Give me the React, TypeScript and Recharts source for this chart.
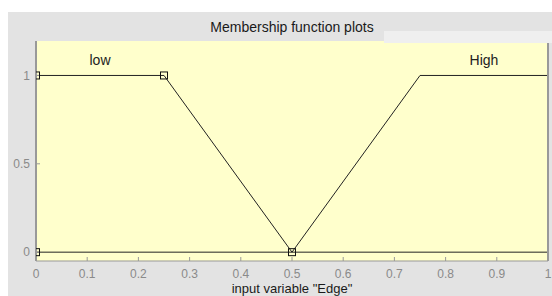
import React from "react";
import {
  ComposedChart,
  Line,
  Scatter,
  XAxis,
  YAxis,
  CartesianGrid,
  Label,
} from "recharts";

const xTicks = [0, 0.1, 0.2, 0.3, 0.4, 0.5, 0.6, 0.7, 0.8, 0.9, 1];
const yTicks = [0, 0.5, 1];

// membership functions over the whole input range
const lowX = [0, 0.25, 0.5, 1];
const lowY = [1, 1, 0, 0];
const highX = [0, 0.5, 0.75, 1];
const highY = [0, 0, 1, 1];

// selected mf "low" = trapmf [0 0 0.25 0.5], its parameter markers
const lowParams = [0, 0, 0.25, 0.5];
const paramY = [0, 1, 1, 0];

const mfNames = ["low", "High"];
const nameX = [0.125, 0.875];
const nameY = [1.09, 1.09];

const lowData = lowX.map((x, i) => ({ x, y: lowY[i] }));
const highData = highX.map((x, i) => ({ x, y: highY[i] }));
const markerData = lowParams.map((x, i) => ({ x, y: paramY[i] }));
const nameData = mfNames.map((name, i) => ({ x: nameX[i], y: nameY[i], name }));

const NameLabel = (props: any) => (
  <text
    x={props.cx}
    y={props.cy}
    textAnchor="middle"
    dominantBaseline="central"
    fontSize={14}
    fill="#222"
  >
    {props.payload.name}
  </text>
);

const MarkerSquare = (props: any) => (
  <rect
    x={props.cx - 3.5}
    y={props.cy - 3.5}
    width={7}
    height={7}
    fill="none"
    stroke="#111"
    strokeWidth={1}
  />
);

const XTick = (props: any) => (
  <text
    x={props.x}
    y={props.y}
    dy="0.71em"
    textAnchor="middle"
    fontSize={12}
    fill="#8a8a8a"
  >
    {String(props.payload.value)}
  </text>
);

export default function App() {
  return (
    <div
      style={{
        position: "fixed",
        left: 0,
        top: 0,
        width: 552,
        height: 296,
        background: "#fff",
        overflow: "hidden",
        fontFamily: '"Liberation Sans", Arial, sans-serif',
      }}
    >
      <div
        style={{
          position: "absolute",
          left: 8,
          top: 12,
          width: 544,
          height: 284,
          background: "#e3e3e3",
        }}
      >
        <div
          style={{
            position: "absolute",
            left: 28,
            width: 512,
            top: 6,
            lineHeight: "18px",
            fontSize: 14,
            color: "#1a1a1a",
            textAlign: "center",
          }}
        >
          Membership function plots
        </div>
        <ComposedChart
          width={544}
          height={284}
          margin={{ top: 29, right: 3, bottom: 0, left: 0 }}
        >
          <CartesianGrid
            fill="#ffffcc"
            horizontal={false}
            vertical={false}
          />
          <XAxis
            dataKey="x"
            type="number"
            domain={[0, 1]}
            ticks={xTicks}
            interval={0}
            allowDataOverflow
            height={35}
            tickSize={-4}
            tickMargin={12.5}
            tick={XTick}
            axisLine={{ stroke: "#999" }}
            tickLine={{ stroke: "#999" }}
          >
            <Label
              value={'input variable "Edge"'}
              position="insideBottom"
              offset={3}
              fontSize={13}
              fill="#1a1a1a"
            />
          </XAxis>
          <XAxis
            xAxisId="top"
            orientation="top"
            type="number"
            domain={[0, 1]}
            ticks={xTicks}
            interval={0}
            height={0}
            tick={false}
            tickSize={-4}
            axisLine={{ stroke: "#bbb" }}
            tickLine={{ stroke: "#999" }}
          />
          <YAxis
            type="number"
            domain={[-0.05, 1.195]}
            ticks={yTicks}
            interval={0}
            allowDataOverflow
            width={28}
            tickSize={-4}
            tickMargin={10}
            tick={{ fill: "#8a8a8a", fontSize: 12 }}
            axisLine={{ stroke: "#999", strokeWidth: 2 }}
            tickLine={{ stroke: "#999" }}
          />
          <YAxis
            yAxisId="right"
            orientation="right"
            type="number"
            domain={[-0.05, 1.195]}
            ticks={yTicks}
            width={1}
            tick={false}
            tickLine={false}
            axisLine={{ stroke: "#999", strokeWidth: 2 }}
          />
          <Line
            data={lowData}
            dataKey="y"
            stroke="#222"
            strokeWidth={1}
            dot={false}
            isAnimationActive={false}
          />
          <Line
            data={highData}
            dataKey="y"
            stroke="#222"
            strokeWidth={1}
            dot={false}
            isAnimationActive={false}
          />
          <Scatter
            data={markerData}
            dataKey="y"
            shape={MarkerSquare}
            isAnimationActive={false}
          />
          <Scatter
            data={nameData}
            dataKey="y"
            shape={NameLabel}
            isAnimationActive={false}
          />
        </ComposedChart>
        <div
          style={{
            position: "absolute",
            left: 376,
            top: 19,
            width: 168,
            height: 12,
            background: "#efefef",
          }}
        />
      </div>
    </div>
  );
}
